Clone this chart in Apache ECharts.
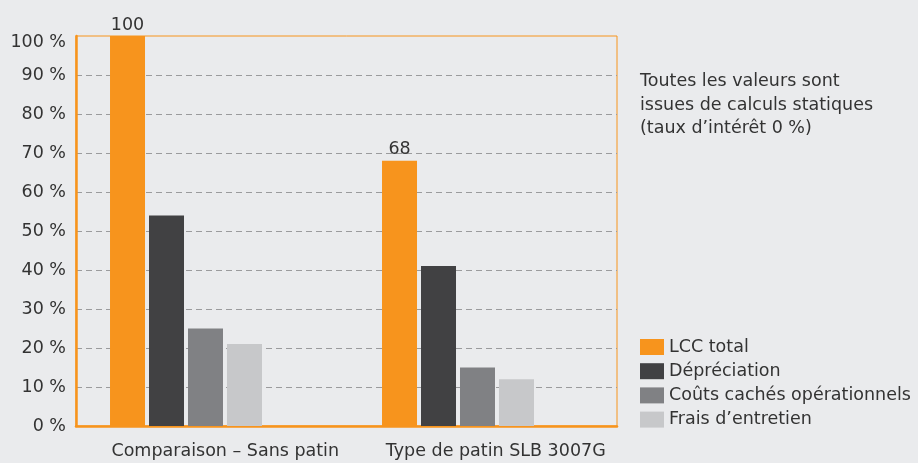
<!DOCTYPE html>
<html>
<head>
<meta charset="utf-8">
<script src="https://cdn.jsdelivr.net/npm/echarts@6/dist/echarts.min.js"></script>
<style>
html,body{margin:0;padding:0;background:#EAEBED;}
#chart{width:918px;height:463px;}
</style>
</head>
<body>
<div id="chart"></div>
<script>
var categories = ['Comparaison – Sans patin', 'Type de patin SLB 3007G'];
var seriesNames = ['LCC total', 'Dépréciation', 'Coûts cachés opérationnels', 'Frais d’entretien'];
var lccTotal = [100, 68];
var depreciation = [54, 41];
var hiddenCosts = [25, 15];
var maintenance = [21, 12];
var yTicks = [0, 10, 20, 30, 40, 50, 60, 70, 80, 90, 100];
var noteLines = ['Toutes les valeurs sont', 'issues de calculs statiques', '(taux d’intérêt 0 %)'];

var colors = ['#F7941D', '#414143', '#808184', '#C7C8CA'];
var FONT = 'DejaVu Sans';
var FS = 17.5;
var TXT = '#333333';

var chart = echarts.init(document.getElementById('chart'));
var seriesData = [lccTotal, depreciation, hiddenCosts, maintenance];

var series = seriesNames.map(function (name, i) {
  var s = {
    name: name,
    type: 'bar',
    xAxisIndex: 1,
    yAxisIndex: 1,
    data: seriesData[i],
    barWidth: 35,
    barGap: '11.4%',
    itemStyle: { color: colors[i] },
    z: 3
  };
  if (i === 0) {
    s.label = {
      show: true, position: 'top', distance: 2,
      fontFamily: FONT, fontSize: FS, color: TXT,
      formatter: function (p) { return String(p.value); }
    };
  }
  return s;
});

chart.setOption({
  backgroundColor: '#EAEBED',
  animation: false,
  textStyle: { fontFamily: FONT },
  title: {
    text: noteLines.join('\n'),
    left: 640, top: 70, padding: 0,
    textStyle: { fontFamily: FONT, fontSize: FS, fontWeight: 'normal', color: TXT, lineHeight: 23.5 }
  },
  legend: {
    orient: 'vertical', left: 640, top: 338, padding: 0,
    itemWidth: 24, itemHeight: 16, itemGap: 6.2,
    icon: 'rect',
    data: seriesNames,
    textStyle: { fontFamily: FONT, fontSize: FS, color: TXT }
  },
  grid: [
    { left: 76, right: 301, top: 36, bottom: 37, show: true, borderColor: '#F7941D', borderWidth: 1, backgroundColor: 'transparent' },
    { left: 50, right: 324, top: 36, bottom: 37 }
  ],
  xAxis: [
    {
      type: 'category', gridIndex: 0, data: categories,
      axisLine: { show: true, lineStyle: { color: '#F7941D', width: 2.5 } },
      axisTick: { show: false },
      axisLabel: { interval: 0, hideOverlap: false, fontFamily: FONT, fontSize: FS, color: TXT, margin: 16, padding: [0, 0, 0, 28] }
    },
    {
      type: 'category', gridIndex: 1, data: categories,
      show: false
    }
  ],
  yAxis: [
    {
      type: 'value', gridIndex: 0, min: 0, max: 100, interval: 10,
      axisLine: { show: true, lineStyle: { color: '#F7941D', width: 2.5 } },
      axisTick: { show: false },
      axisLabel: {
        fontFamily: FONT, fontSize: FS, color: TXT, margin: 10,
        formatter: function (v) {
          return v === yTicks[yTicks.length - 1] ? '{top|' + v + ' %}' : v + ' %';
        },
        rich: { top: { fontFamily: FONT, fontSize: FS, color: TXT, padding: [12, 0, 0, 0] } }
      },
      splitLine: {
        show: true, showMinLine: false, showMaxLine: false,
        lineStyle: { color: '#9B9B9D', width: 1.2, type: [6, 4] }
      }
    },
    {
      type: 'value', gridIndex: 1, min: 0, max: 100, interval: 10, show: false,
      splitLine: { show: false }
    }
  ],
  series: series
});
</script>
</body>
</html>
